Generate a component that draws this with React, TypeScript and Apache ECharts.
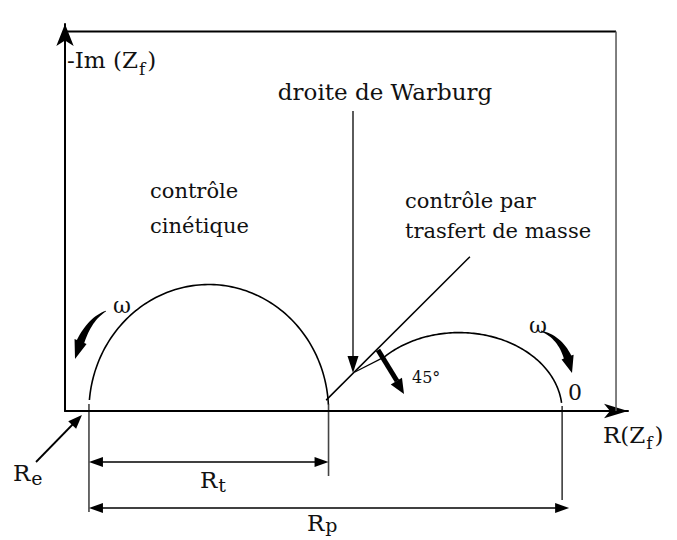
import React, { useEffect, useRef } from "react";
import * as echarts from "echarts";

const WIDTH = 677;
const HEIGHT = 540;
const FONT = "'DejaVu Serif', serif";
const INK = "#111";

// Axis extents (schematic resistance units)
const X_MAX = 235;
const Y_MAX = 153;

// Resistances marked on the real axis
const RE = 10; // electrolyte resistance
const RT = 100; // charge-transfer resistance
const RP = 197.5; // polarisation resistance

// Arcs: [centre on real axis, half-width, height, start angle (deg), end angle (deg)]
const KINETIC_ARC = [RE + RT / 2, RT / 2, 50, 3, 175];
const DIFFUSION_ARC = [164.5, 43, 31, 6, 136];

// Warburg straight line (45 degrees on screen)
const WARBURG_LINE = [
  [109, 4.3],
  [169, 61],
];
// low-frequency end of the diffusion arc folding back onto the Warburg line
const DIFFUSION_TAIL = [
  [133.6, 21.5],
  [121, 15.4],
];

// Top and right edges of the plot frame
const FRAME_TOP = [
  [0, 150],
  [230, 150],
];
const FRAME_RIGHT = [
  [230, 150],
  [230, 0],
];

// Texts
const Y_TITLE = ["-Im (Z", "f", ")"];
const X_TITLE = ["R(Z", "f", ")"];
const WARBURG_TEXT = "droite de Warburg";
const KINETIC_TEXT = ["contrôle", "cinétique"];
const MASS_TEXT = ["contrôle par", "trasfert de masse"];
const OMEGA = "ω";
const ANGLE_TEXT = "45°";
const ZERO_TEXT = "0";
const RE_LABEL = ["R", "e"];
const RT_LABEL = ["R", "t"];
const RP_LABEL = ["R", "p"];

let measureCtx: CanvasRenderingContext2D | null = null;
function textWidth(text: string, size: number): number {
  if (!measureCtx) measureCtx = document.createElement("canvas").getContext("2d");
  if (!measureCtx) return text.length * size * 0.55;
  measureCtx.font = `${size}px ${FONT}`;
  return measureCtx.measureText(text).width;
}

// text placed by its alphabetic baseline
function txt(text: string, x: number, baseline: number, size: number, align = "left", weight = "normal") {
  return {
    type: "text",
    x,
    y: baseline - 0.32 * size,
    silent: true,
    style: {
      text,
      fontFamily: FONT,
      fontSize: size,
      fontWeight: weight,
      fill: INK,
      align,
      verticalAlign: "middle",
    },
  };
}

// main text followed by a lowered subscript and optional tail
function subText(parts: string[], x: number, baseline: number, size: number, subSize: number, drop: number) {
  const out: any[] = [];
  const w0 = textWidth(parts[0], size);
  out.push(txt(parts[0], x, baseline, size));
  out.push(txt(parts[1], x + w0 + 1, baseline + drop, subSize));
  if (parts[2]) {
    const w1 = textWidth(parts[1], subSize);
    out.push(txt(parts[2], x + w0 + w1 + 3, baseline, size));
  }
  return out;
}

function line(x1: number, y1: number, x2: number, y2: number, width = 1.5, color = "#000") {
  return {
    type: "line",
    silent: true,
    shape: { x1, y1, x2, y2 },
    style: { stroke: color, lineWidth: width },
  };
}

// filled triangular head with its tip at (tx, ty), pointing away from (fx, fy)
function head(tx: number, ty: number, fx: number, fy: number, len = 14, half = 5) {
  const dx = tx - fx;
  const dy = ty - fy;
  const d = Math.hypot(dx, dy) || 1;
  const ux = dx / d;
  const uy = dy / d;
  const bx = tx - ux * len;
  const by = ty - uy * len;
  return {
    type: "polygon",
    silent: true,
    shape: {
      points: [
        [tx, ty],
        [bx - uy * half, by + ux * half],
        [bx + uy * half, by - ux * half],
      ],
    },
    style: { fill: "#000" },
  };
}

// curved, tapering arrow along a quadratic Bezier p0 -> c -> p2
function taperArrow(p0: number[], c: number[], p2: number[], maxHalf = 4, headHalf = 6.5) {
  const tHead = 0.74;
  const at = (t: number) => {
    const u = 1 - t;
    return [u * u * p0[0] + 2 * u * t * c[0] + t * t * p2[0], u * u * p0[1] + 2 * u * t * c[1] + t * t * p2[1]];
  };
  const normal = (t: number) => {
    const dx = 2 * (1 - t) * (c[0] - p0[0]) + 2 * t * (p2[0] - c[0]);
    const dy = 2 * (1 - t) * (c[1] - p0[1]) + 2 * t * (p2[1] - c[1]);
    const d = Math.hypot(dx, dy) || 1;
    return [-dy / d, dx / d];
  };
  const left: number[][] = [];
  const right: number[][] = [];
  const n = 16;
  for (let i = 0; i <= n; i++) {
    const t = (tHead * i) / n;
    const p = at(t);
    const nv = normal(t);
    const hw = 0.4 + (maxHalf - 0.4) * (i / n);
    left.push([p[0] + nv[0] * hw, p[1] + nv[1] * hw]);
    right.push([p[0] - nv[0] * hw, p[1] - nv[1] * hw]);
  }
  const b = at(tHead);
  const nb = normal(tHead);
  const points = [
    ...left,
    [b[0] + nb[0] * headHalf, b[1] + nb[1] * headHalf],
    p2,
    [b[0] - nb[0] * headHalf, b[1] - nb[1] * headHalf],
    ...right.reverse(),
  ];
  return { type: "polygon", silent: true, shape: { points }, style: { fill: "#000" } };
}

function renderArc(_params: any, api: any) {
  const cx = api.value(0);
  const rx = api.value(1);
  const ry = api.value(2);
  const a0 = api.value(3);
  const a1 = api.value(4);
  const points: number[][] = [];
  const steps = 120;
  for (let i = 0; i <= steps; i++) {
    const a = ((a0 + ((a1 - a0) * i) / steps) * Math.PI) / 180;
    points.push(api.coord([cx + rx * Math.cos(a), ry * Math.sin(a)]));
  }
  return {
    type: "polyline",
    shape: { points },
    style: { stroke: "#000", lineWidth: 1.6, fill: null },
  };
}

export default function App() {
  const ref = useRef<HTMLDivElement>(null);

  useEffect(() => {
    if (!ref.current) return;
    const chart = echarts.init(ref.current, undefined, { renderer: "svg" });

    const axisCommon = {
      type: "value",
      min: 0,
      axisTick: { show: false },
      axisLabel: { show: false },
      splitLine: { show: false },
    };

    chart.setOption({
      animation: false,
      backgroundColor: "#fff",
      grid: { left: 65, top: 24, width: 563, height: 387 },
      xAxis: {
        ...axisCommon,
        max: X_MAX,
        axisLine: {
          show: true,
          symbol: ["none", "arrow"],
          symbolSize: [11, 24],
          lineStyle: { color: "#000", width: 2 },
        },
      },
      yAxis: {
        ...axisCommon,
        max: Y_MAX,
        axisLine: {
          show: true,
          symbol: ["none", "arrow"],
          symbolSize: [13, 22],
          lineStyle: { color: "#000", width: 2 },
        },
      },
      series: [
        {
          type: "custom",
          name: "arcs",
          renderItem: renderArc,
          data: [KINETIC_ARC, DIFFUSION_ARC],
          clip: false,
          silent: true,
          z: 3,
        },
        {
          type: "line",
          name: "Warburg",
          data: WARBURG_LINE,
          symbol: "none",
          silent: true,
          lineStyle: { color: "#000", width: 1.5 },
        },
        {
          type: "line",
          name: "tail",
          data: DIFFUSION_TAIL,
          symbol: "none",
          silent: true,
          lineStyle: { color: "#000", width: 1.2 },
        },
        {
          type: "line",
          name: "frameTop",
          data: FRAME_TOP,
          symbol: "none",
          silent: true,
          lineStyle: { color: "#000", width: 2 },
        },
        {
          type: "line",
          name: "frameRight",
          data: FRAME_RIGHT,
          symbol: "none",
          silent: true,
          lineStyle: { color: "#555", width: 1.5 },
        },
      ],
    });

    const px = (p: number[]) => chart.convertToPixel({ gridIndex: 0 }, p) as number[];
    const xRe = px([RE, 0])[0];
    const xRt = px([RE + RT, 0])[0];
    const xRp = px([RE + RP, 0])[0];
    const axisY = px([0, 0])[1];

    const rtY = 462;
    const rpY = 508;

    const graphic: any[] = [
      // dimension guides
      line(xRe, axisY - 7, xRe, 512, 1.6, "#444"),
      line(xRt, axisY - 7, xRt, 476, 1.6, "#444"),
      line(xRp, axisY - 5, xRp, 500, 1.4, "#222"),
      // Rt double arrow
      line(xRe + 10, rtY, xRt - 10, rtY, 1.6),
      head(xRe, rtY, xRt, rtY),
      head(xRt, rtY, xRe, rtY),
      // Rp double arrow
      line(xRe + 10, rpY, xRp + 0, rpY, 1.6),
      head(xRe, rpY, xRp, rpY),
      head(xRp + 7, rpY, xRe, rpY),
      // Re pointer
      line(36, 462, 76, 421, 1.8),
      head(xRe - 7, axisY + 4, 36, 462, 14, 5.5),
      // Warburg pointer
      line(353, 111, 353, 358, 1.6, "#333"),
      head(353, 373, 353, 111, 17, 5.5),
      // 45 degree arrow
      line(378, 350, 397, 381, 5),
      head(404, 394, 378, 350, 15, 6.5),
      // frequency arrows
      taperArrow([106, 311], [84, 322], [75, 359]),
      taperArrow([541, 331], [566, 339], [572, 373]),
      // texts
      ...subText(Y_TITLE, 67, 67, 23, 17, 7),
      txt(WARBURG_TEXT, 385, 99, 23, "center"),
      txt(KINETIC_TEXT[0], 150, 198, 21),
      txt(KINETIC_TEXT[1], 150, 233, 21),
      txt(MASS_TEXT[0], 405, 208, 21),
      txt(MASS_TEXT[1], 405, 238, 21),
      txt(OMEGA, 122, 313, 22, "center"),
      txt(OMEGA, 538, 333, 22, "center"),
      txt(ANGLE_TEXT, 412, 383, 16),
      txt(ZERO_TEXT, 568, 400, 22),
      ...subText(X_TITLE, 603, 442, 23, 17, 6),
      ...subText(RE_LABEL, 13, 480, 23, 19, 4),
      ...subText(RT_LABEL, 200, 487, 23, 19, 4),
      ...subText(RP_LABEL, 307, 530, 23, 19, 1),
    ];

    chart.setOption({ graphic });

    return () => chart.dispose();
  }, []);

  return (
    <div
      ref={ref}
      style={{ position: "fixed", left: 0, top: 0, width: WIDTH, height: HEIGHT, background: "#fff" }}
    />
  );
}
